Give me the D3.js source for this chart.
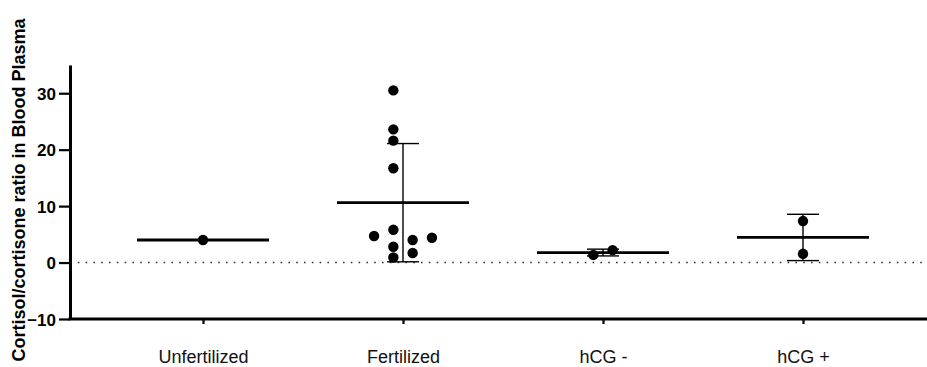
<!DOCTYPE html>
<html>
<head>
<meta charset="utf-8">
<script src="https://cdn.jsdelivr.net/npm/d3@7"></script>
<style>
    body { margin: 0; background: #fff; }
    text { font-family: "Liberation Sans", Arial, Helvetica, sans-serif; }
</style>
</head>
<body>
<svg id="viz"></svg>
<script>
var width = 927;
var height = 367;

// data
var categories = ["Unfertilized", "Fertilized", "hCG -", "hCG +"];
var unfertilized = [4.0];
var fertilized = [0.9, 5.8, 16.7, 21.6, 23.6, 30.5, 4.0, 1.7, 4.7, 4.4, 2.8];
var hcgMinus = [1.35, 2.2];
var hcgPlus = [7.35, 1.55];
var yTicks = [-10, 0, 10, 20, 30];
var yLabel = "Cortisol/cortisone ratio in Blood Plasma";

var groups = [unfertilized, fertilized, hcgMinus, hcgPlus];

var svg = d3.select("#viz")
    .attr("width", width)
    .attr("height", height);

var x = d3.scalePoint()
    .domain(categories)
    .range([70, 936])
    .padding(0.665);

var y = d3.scaleLinear()
    .domain([-10, 35])
    .range([319, 65]);

// dotted zero line
svg.append("line")
    .attr("x1", 70)
    .attr("x2", width)
    .attr("y1", y(0))
    .attr("y2", y(0))
    .style("stroke", "#333")
    .style("stroke-width", 1.6)
    .style("stroke-dasharray", "1.6,6.2");

// axes
var yAxis = svg.append("g")
    .attr("transform", "translate(70,0)")
    .call(d3.axisLeft(y).tickValues(yTicks).tickSize(11).tickPadding(3).tickSizeOuter(0));

yAxis.select(".domain").style("stroke", "#000").style("stroke-width", 3);
yAxis.selectAll(".tick line").style("stroke", "#000").style("stroke-width", 2.2);
yAxis.selectAll(".tick text")
    .style("font-size", "17px")
    .style("font-weight", "bold")
    .style("fill", "#000")
    .attr("dy", "0.36em");

var xAxis = svg.append("g")
    .attr("transform", "translate(0,319)")
    .call(d3.axisBottom(x).tickSize(5).tickPadding(26).tickSizeOuter(0));

xAxis.select(".domain")
    .attr("d", "M68.5,0H" + width)
    .style("stroke", "#000")
    .style("stroke-width", 3);
xAxis.selectAll(".tick line").style("stroke", "#000").style("stroke-width", 2.2);
xAxis.selectAll(".tick text")
    .style("font-size", "18px")
    .style("fill", "#111");

// y title
svg.append("text")
    .attr("transform", "translate(25,190) rotate(-90)")
    .attr("text-anchor", "middle")
    .style("font-size", "18px")
    .style("font-weight", "bold")
    .style("fill", "#000")
    .text(yLabel);

// scatter layout: push overlapping dots sideways, then centre the group
function spread(values) {
    var step = 19.3;
    var minDist = 10.4;
    var cand = [0, step, -step, 2 * step, -2 * step, 3 * step, -3 * step];
    var placed = [];
    values.forEach(function (v) {
        var py = y(v);
        for (var i = 0; i < cand.length; i++) {
            var ok = placed.every(function (p) {
                return Math.hypot(p.dx - cand[i], p.y - py) >= minDist;
            });
            if (ok) {
                placed.push({ v: v, y: py, dx: cand[i] });
                break;
            }
        }
    });
    var ext = d3.extent(placed, function (p) { return p.dx; });
    var shift = (ext[0] + ext[1]) / 2;
    placed.forEach(function (p) { p.dx -= shift; });
    return placed;
}

var plot = svg.append("g");

groups.forEach(function (vals, i) {
    var cx = x(categories[i]);
    var m = d3.mean(vals);
    var sd = d3.deviation(vals);
    var g = plot.append("g");

    if (sd !== undefined) {
        g.append("line")
            .attr("x1", cx).attr("x2", cx)
            .attr("y1", y(m + sd)).attr("y2", y(m - sd))
            .style("stroke", "#000").style("stroke-width", 1.4);
        [m + sd, m - sd].forEach(function (e) {
            g.append("line")
                .attr("x1", cx - 16).attr("x2", cx + 16)
                .attr("y1", y(e)).attr("y2", y(e))
                .style("stroke", "#000").style("stroke-width", 1.4);
        });
    }

    g.append("line")
        .attr("x1", cx - 66).attr("x2", cx + 66)
        .attr("y1", y(m)).attr("y2", y(m))
        .style("stroke", "#000").style("stroke-width", 2.8);

    g.selectAll("circle")
        .data(spread(vals))
        .enter().append("circle")
        .attr("cx", function (d) { return cx + d.dx; })
        .attr("cy", function (d) { return d.y; })
        .attr("r", 5.2)
        .style("fill", "#000");
});
</script>
</body>
</html>
